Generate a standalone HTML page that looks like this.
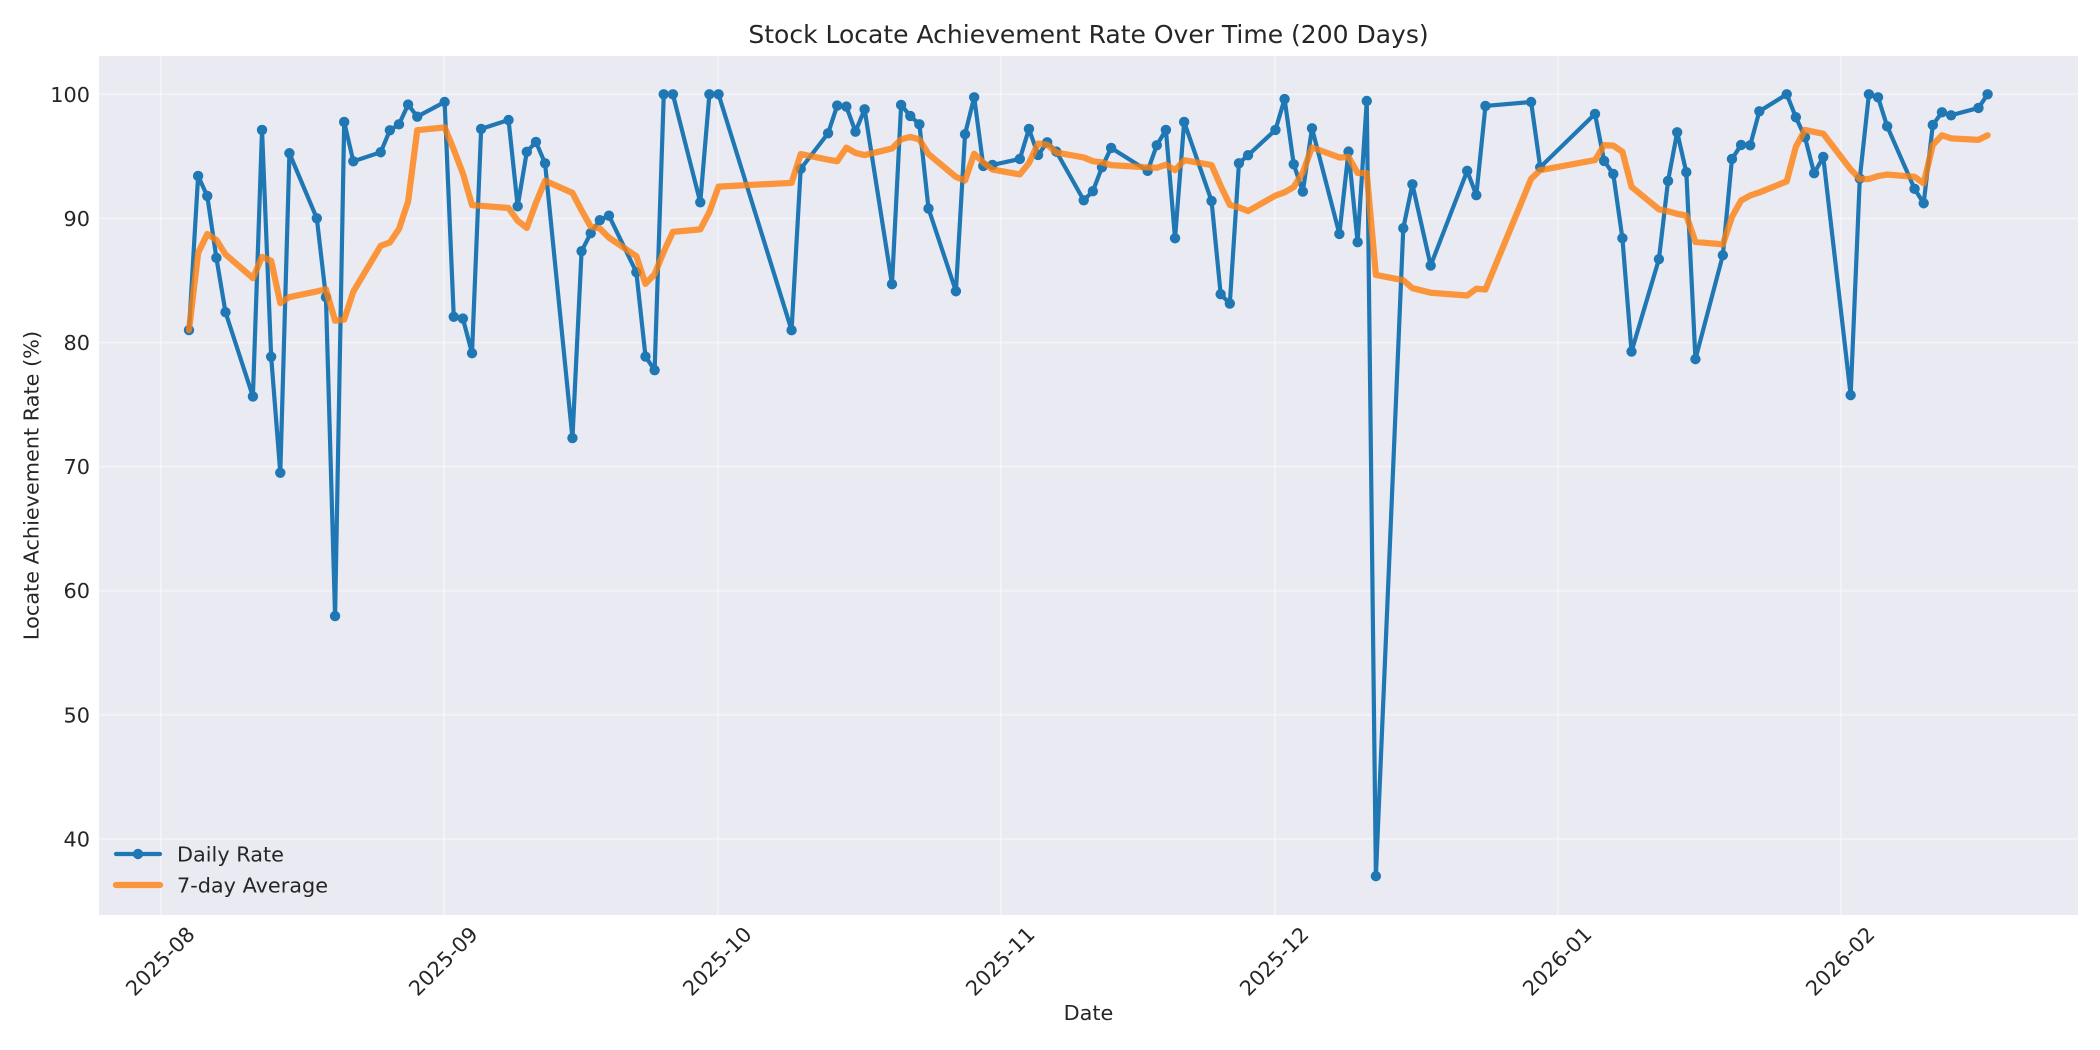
<!DOCTYPE html>
<html>
<head>
<meta charset="utf-8">
<style>
  html, body { margin: 0; padding: 0; background: #ffffff; }
  svg { display: block; }
  text { font-family: "DejaVu Sans", "Liberation Sans", sans-serif; fill: #262626; }
</style>
</head>
<body>
<svg id="chart" xmlns="http://www.w3.org/2000/svg" width="2100" height="1050" viewBox="0 0 2100 1050">
  <rect x="0" y="0" width="2100" height="1050" fill="#ffffff"/>
  <rect x="99" y="56" width="1979" height="859" fill="#EAEAF2"/>
  <g id="grid" stroke="#ffffff" stroke-opacity="0.4" stroke-width="2"></g>
  <g id="yticks"></g>
  <g id="xticks"></g>
  <g id="series"></g>

  <text x="1088.5" y="43" font-size="25" text-anchor="middle">Stock Locate Achievement Rate Over Time (200 Days)</text>
  <text x="1088.5" y="1020" font-size="20.8" text-anchor="middle">Date</text>
  <text transform="translate(38.5,485.5) rotate(-90)" x="0" y="0" font-size="20.8" text-anchor="middle">Locate Achievement Rate (%)</text>

  <!-- Legend -->
  <line x1="116" y1="854" x2="160" y2="854" stroke="#1f77b4" stroke-width="4.2" stroke-linecap="round"/>
  <circle cx="138" cy="854" r="5.2" fill="#1f77b4"/>
  <text x="177" y="861.6" font-size="20.8">Daily Rate</text>
  <line x1="116" y1="885" x2="160" y2="885" stroke="#ff7f0e" stroke-opacity="0.8" stroke-width="6.25" stroke-linecap="round"/>
  <text x="177" y="892.6" font-size="20.8">7-day Average</text>
</svg>
<script>
(function(){
  var NS = "http://www.w3.org/2000/svg";
  function G(day){ return 161 + day * 9.13; }
  function X(day){ return 161.6 + day * 9.13; }
  function Y(v){ return 94.3 + (100 - v) * 12.41; }
  function el(tag, attrs, parent, txt){
    var e = document.createElementNS(NS, tag);
    for (var k in attrs) e.setAttribute(k, attrs[k]);
    if (txt !== undefined) e.textContent = txt;
    parent.appendChild(e);
    return e;
  }
  var grid = document.getElementById('grid');
  var yt = document.getElementById('yticks');
  var xt = document.getElementById('xticks');
  var series = document.getElementById('series');

  for (var v = 40; v <= 100; v += 10) {
    var y = Y(v);
    el('line', {x1: 99, x2: 2078, y1: y.toFixed(2), y2: y.toFixed(2)}, grid);
    el('text', {x: 90, y: (y + 7.5).toFixed(2), 'font-size': 20.8, 'text-anchor': 'end'}, yt, String(v));
  }
  var months = [[0,'2025-08'],[31,'2025-09'],[61,'2025-10'],[92,'2025-11'],[122,'2025-12'],[153,'2026-01'],[184,'2026-02']];
  months.forEach(function(m){
    var x = G(m[0]);
    el('line', {x1: x.toFixed(2), x2: x.toFixed(2), y1: 56, y2: 915}, grid);
    el('text', {transform: 'translate(' + (x - 1).toFixed(2) + ',961) rotate(-45)', x: 0, y: 7.6,
                'font-size': 20.8, 'text-anchor': 'middle'}, xt, m[1]);
  });

  var data = [
    [3,81.0],[4,93.42],[5,91.81],[6,86.82],[7,82.44],
    [10,75.65],[11,97.13],[12,78.85],[13,69.5],[14,95.25],
    [17,90.01],[18,83.65],[19,57.96],[20,97.77],[21,94.6],
    [24,95.33],[25,97.10],[26,97.58],[27,99.17],[28,98.2],
    [31,99.38],[32,82.07],[33,81.93],[34,79.14],[35,97.21],
    [38,97.93],[39,90.98],[40,95.36],[41,96.16],[42,94.44],
    [45,72.3],[46,87.36],[47,88.81],[48,89.86],[49,90.22],
    [52,85.66],[53,78.87],[54,77.77],[55,100],[56,100],
    [59,91.30],[60,100],[61,100],
    [69,80.99],[70,93.99],
    [73,96.86],[74,99.09],[75,99.01],[76,96.99],[77,98.79],
    [80,84.70],[81,99.14],[82,98.26],[83,97.58],[84,90.79],
    [87,84.13],[88,96.78],[89,99.76],[90,94.23],[91,94.31],
    [94,94.79],[95,97.21],[96,95.11],[97,96.13],[98,95.38],
    [101,91.46],[102,92.19],[103,94.12],[104,95.68],
    [108,93.83],[109,95.89],[110,97.13],[111,88.40],[112,97.77],
    [115,91.41],[116,83.89],[117,83.14],[118,94.44],[119,95.09],
    [122,97.13],[123,99.62],[124,94.36],[125,92.16],[126,97.26],
    [129,88.75],[130,95.38],[131,88.08],[132,99.46],[133,37.0],
    [136,89.21],[137,92.75],[139,86.2],
    [143,93.83],[144,91.87],[145,99.06],
    [150,99.38],[151,94.12],
    [157,98.42],[158,94.63],[159,93.58],[160,88.40],[161,79.27],
    [164,86.71],[165,93.02],[166,96.94],[167,93.72],[168,78.66],
    [171,87.03],[172,94.79],[173,95.92],[174,95.89],[175,98.63],
    [178,100],[179,98.15],[180,96.54],[181,93.64],[182,94.95],
    [185,75.76],[186,93.21],[187,100],[188,99.76],[189,97.42],
    [192,92.38],[193,91.22],[194,97.53],[195,98.55],[196,98.31],
    [199,98.90],[200,100]
  ];

  var d = '';
  data.forEach(function(p, i){
    d += (i ? 'L' : 'M') + X(p[0]).toFixed(2) + ',' + Y(p[1]).toFixed(2);
  });
  el('path', {d: d, fill: 'none', stroke: '#1f77b4', 'stroke-width': 4.2,
              'stroke-linejoin': 'round', 'stroke-linecap': 'round'}, series);
  data.forEach(function(p){
    el('circle', {cx: X(p[0]).toFixed(2), cy: Y(p[1]).toFixed(2), r: 5.2, fill: '#1f77b4'}, series);
  });

  var r = '';
  for (var i = 0; i < data.length; i++) {
    var s = 0, n = 0;
    for (var j = Math.max(0, i - 6); j <= i; j++) { s += data[j][1]; n++; }
    var m = s / n;
    r += (i ? 'L' : 'M') + X(data[i][0]).toFixed(2) + ',' + Y(m).toFixed(2);
  }
  el('path', {d: r, fill: 'none', stroke: '#ff7f0e', 'stroke-opacity': 0.8, 'stroke-width': 6.25,
              'stroke-linejoin': 'round', 'stroke-linecap': 'round'}, series);
})();
</script>
</body>
</html>
